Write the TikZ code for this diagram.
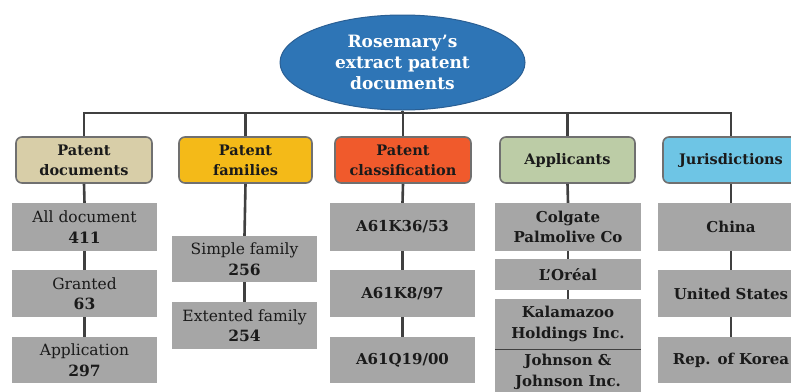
\documentclass[tikz,border=0pt]{standalone}
\usepackage{fontspec}
\setmainfont{DejaVu Serif}
\usetikzlibrary{shapes.geometric}
\definecolor{linec}{HTML}{404040}
\definecolor{rootc}{HTML}{2E75B6}
\definecolor{rootb}{HTML}{2A5F94}
\definecolor{hdA}{HTML}{D8CEA8}
\definecolor{hdB}{HTML}{F4BA18}
\definecolor{hdC}{HTML}{F05A2C}
\definecolor{hdD}{HTML}{BCCCA6}
\definecolor{hdE}{HTML}{6EC5E5}
\definecolor{boxc}{HTML}{A6A6A6}
\definecolor{hdbord}{HTML}{707070}
\definecolor{txtc}{HTML}{1A1A1A}
\tikzset{
  x=1pt, y=-1pt,
  root/.style={ellipse, fill=rootc, draw=rootb, line width=1pt, minimum width=245pt, minimum height=95pt, inner sep=0pt, text=white, align=center, font=\fontsize{17}{21}\selectfont\bfseries},
  head/.style={rounded corners=6pt, draw=hdbord, line width=1.6pt, minimum height=46pt, inner sep=0pt, align=center, text=txtc, font=\fontsize{14.5}{20}\selectfont\bfseries},
  leaf/.style={fill=boxc, minimum width=145pt, inner sep=0pt, align=center, text=txtc, font=\fontsize{15.5}{20.5}\selectfont},
  bleaf/.style={leaf, font=\fontsize{15}{20.5}\selectfont\bfseries},
  conn/.style={draw=linec, line width=2.8pt},
  thin/.style={draw=linec, line width=2.6pt}
}
\begin{document}
\begin{tikzpicture}
\useasboundingbox (0,0) rectangle (791,391);
\clip (0,0) rectangle (791,391);
\fill[white] (0,0) rectangle (791,391);
% root
\node[root] (root) at (402.5,62.5) {Rosemary’s\\extract patent\\documents};
\coordinate (bus) at (402.5,113);
% headers
\node[head, fill=hdA, minimum width=136pt] (h1) at (84,160) {Patent\\documents};
\node[head, fill=hdB, minimum width=133pt] (h2) at (245.5,160) {Patent\\families};
\node[head, fill=hdC, minimum width=136pt] (h3) at (403,160) {Patent\\classification};
\node[head, fill=hdD, minimum width=135pt] (h4) at (567.5,160) {Applicants};
\node[head, fill=hdE, minimum width=136pt] (h5) at (731,160) {Jurisdictions};
% leaves col 1
\node[leaf, minimum height=48pt] (a1) at (84.5,227) {All document\\\textbf{411}};
\node[leaf, minimum height=47pt] (a2) at (84.5,293.5) {Granted\\\textbf{63}};
\node[leaf, minimum height=46pt] (a3) at (84.5,360) {Application\\\textbf{297}};
% col 2
\node[leaf, minimum height=46pt] (b1) at (244.5,259) {Simple family\\\textbf{256}};
\node[leaf, minimum height=47pt] (b2) at (244.5,325.5) {Extented family\\\textbf{254}};
% col 3
\node[bleaf, minimum height=48pt] (c1) at (402.5,227) {A61K36/53};
\node[bleaf, minimum height=47pt] (c2) at (402.5,293.5) {A61K8/97};
\node[bleaf, minimum height=46pt] (c3) at (402.5,360) {A61Q19/00};
% col 4
\node[bleaf, minimum width=146pt, minimum height=48pt] (d1) at (568,227) {Colgate\\Palmolive Co};
\node[bleaf, minimum width=146pt, minimum height=31pt] (d2) at (568,274.5) {L’Oréal};
\node[bleaf, minimum width=146pt, minimum height=50pt] (d3) at (568,324) {Kalamazoo\\Holdings Inc.};
\node[bleaf, minimum width=146pt, minimum height=46pt] (d4) at (568,372) {Johnson \&\\Johnson Inc.};
% col 5
\node[bleaf, minimum width=146pt, minimum height=48pt] (e1) at (731,227) {China};
\node[bleaf, minimum width=146pt, minimum height=47pt] (e2) at (731,293.5) {United States};
\node[bleaf, minimum width=146pt, minimum height=46pt] (e3) at (731,360) {Rep. of Korea};
% connectors
\draw[conn] (h1.north) -- (h1.north |- bus) -- (h5.north |- bus) -- (h5.north);
\draw[conn] (root.south) -- (bus);
\draw[conn] (h2.north) -- (h2.north |- bus);
\draw[conn] (h3.north) -- (h3.north |- bus);
\draw[conn] (h4.north) -- (h4.north |- bus);
\draw[thin] (h1.south) -- (a1.north);
\draw[thin] (a1.south) -- (a2.north);
\draw[thin] (a2.south) -- (a3.north);
\draw[thin] (h2.south) -- (b1.north);
\draw[thin] (b1.south) -- (b2.north);
\draw[thin] (h3.south) -- (c1.north);
\draw[thin] (c1.south) -- (c2.north);
\draw[thin] (c2.south) -- (c3.north);
\draw[thin] (h4.south) -- (d1.north);
\draw[thin] (d1.south) -- (d2.north);
\draw[thin] (d2.south) -- (d3.north);
\draw[draw=linec, line width=1pt] (d3.south west) -- (d3.south east);
\draw[thin] (h5.south) -- (e1.north);
\draw[thin] (e1.south) -- (e2.north);
\draw[thin] (e2.south) -- (e3.north);
\end{tikzpicture}
\end{document}
